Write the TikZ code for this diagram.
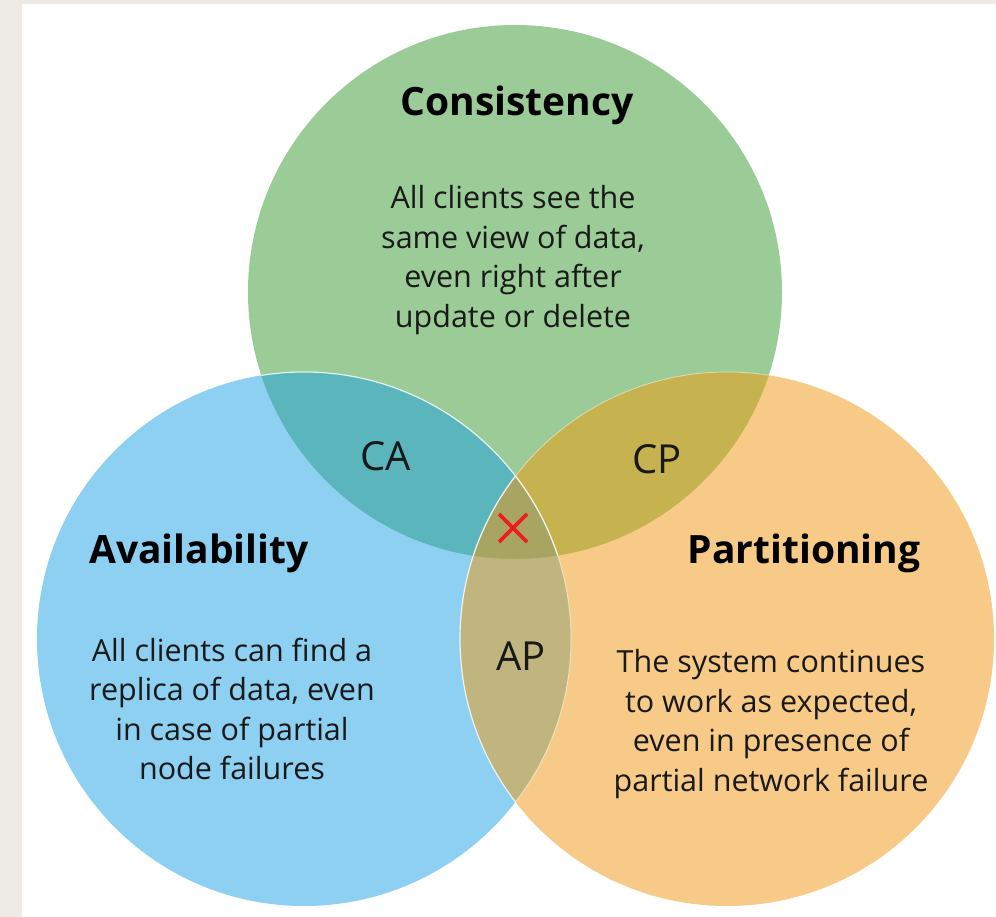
\documentclass[tikz,border=0pt]{standalone}
\usepackage{fontspec}
\setmainfont{Open Sans}
\usetikzlibrary{calc}
\definecolor{bggray}{HTML}{EEEBE7}
\definecolor{cgreen}{HTML}{9BCB96}
\definecolor{cblue}{HTML}{8DD0F1}
\definecolor{corange}{HTML}{F7CA87}
\definecolor{colCA}{HTML}{5AB5BD}
\definecolor{colCP}{HTML}{C6B24F}
\definecolor{colAP}{HTML}{C0B57E}
\definecolor{colMid}{HTML}{A8A562}
\definecolor{xred}{HTML}{EE1C1C}
\begin{document}
\begin{tikzpicture}[x=1pt,y=-1pt,
  title/.style={font=\fontsize{39}{44}\selectfont\bfseries, text=black, inner sep=0pt},
  body/.style={font=\fontsize{30.5}{39.5}\selectfont, text=black!90, align=center, inner sep=0pt},
  pair/.style={font=\fontsize{40}{44}\selectfont, text=black!90, inner sep=0pt}]
\useasboundingbox (0,0) rectangle (996,917);
\fill[bggray] (0,0) rectangle (996,917);
\fill[white] (22,4) rectangle (996,917);
\def\R{267}
\coordinate (gc) at (515,292);
\coordinate (bc) at (304,639);
\coordinate (oc) at (727,639);
% base circles
\fill[cgreen] (gc) circle (\R);
\fill[cblue] (bc) circle (\R);
\fill[corange] (oc) circle (\R);
% pairwise overlaps
\begin{scope}
  \clip (gc) circle (\R);
  \fill[colCA] (bc) circle (\R);
  \fill[colCP] (oc) circle (\R);
\end{scope}
\begin{scope}
  \clip (bc) circle (\R);
  \fill[colAP] (oc) circle (\R);
  \clip (oc) circle (\R);
  \fill[colMid] (gc) circle (\R);
\end{scope}
% white outlines
\begin{scope}
  \clip (gc) circle (\R);
  \draw[white, line width=1.2pt, opacity=0.8] (bc) circle (\R);
\end{scope}
\begin{scope}
  \clip (bc) circle (\R);
  \draw[white, line width=1.2pt, opacity=0.8] (oc) circle (\R);
\end{scope}
\begin{scope}
  \clip (oc) circle (\R);
  \draw[white, line width=1pt, opacity=0.5] (bc) circle (\R);
\end{scope}
\begin{scope}
  \clip (gc) circle (\R);
  \draw[white, line width=1pt, opacity=0.4] (oc) circle (\R);
\end{scope}
% titles
\node[title] (tc) at (517,105) {Consistency};
\node[title] (ta) at (199,553) {Availability};
\node[title] (tp) at (804,553) {Partitioning};
% bodies
\node[body] (bcn) at (513,260) {All clients see the\\same view of data,\\even right after\\update or delete};
\node[body] (ban) at (232,709) {All clients can find a\\replica of data, even\\in case of partial\\node failures};
\node[body] (bpn) at (771,724) {The system continues\\to work as expected,\\even in presence of\\partial network failure};
% pairs
\node[pair] (ca) at (386,456) {CA};
\node[pair] (cp) at (657,459) {CP};
\node[pair] (ap) at (521,656) {AP};
% red cross
\coordinate (xc) at (513,528);
\draw[xred, line width=3.6pt] ($(xc)+(-14,-14)$) -- ($(xc)+(14,14)$);
\draw[xred, line width=3.6pt] ($(xc)+(-14,14)$) -- ($(xc)+(14,-14)$);
\end{tikzpicture}
\end{document}
